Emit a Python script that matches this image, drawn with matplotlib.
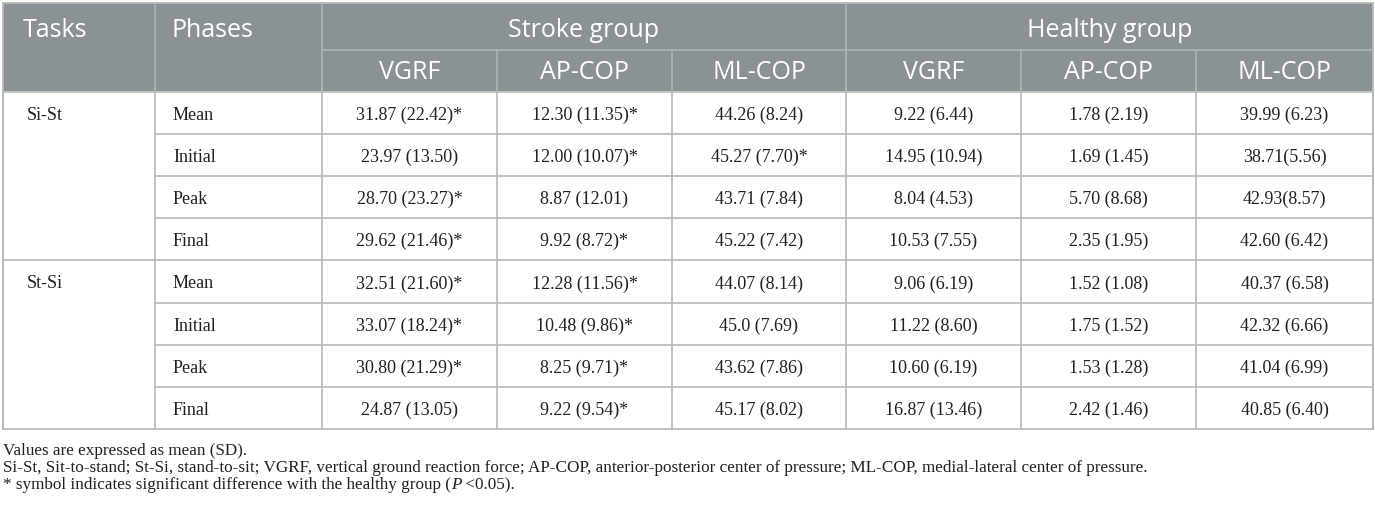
import matplotlib
matplotlib.use("Agg")
import matplotlib.pyplot as plt
from matplotlib.patches import Rectangle

# table contents
tasks = ["Si-St", "St-Si"]
phases = ["Mean", "Initial", "Peak", "Final"]
groups = ["Stroke group", "Healthy group"]
measures = ["VGRF", "AP-COP", "ML-COP"]

stroke_vgrf = ["31.87 (22.42)*", "23.97 (13.50)", "28.70 (23.27)*", "29.62 (21.46)*",
               "32.51 (21.60)*", "33.07 (18.24)*", "30.80 (21.29)*", "24.87 (13.05)"]
stroke_ap = ["12.30 (11.35)*", "12.00 (10.07)*", "8.87 (12.01)", "9.92 (8.72)*",
             "12.28 (11.56)*", "10.48 (9.86)*", "8.25 (9.71)*", "9.22 (9.54)*"]
stroke_ml = ["44.26 (8.24)", "45.27 (7.70)*", "43.71 (7.84)", "45.22 (7.42)",
             "44.07 (8.14)", "45.0 (7.69)", "43.62 (7.86)", "45.17 (8.02)"]
healthy_vgrf = ["9.22 (6.44)", "14.95 (10.94)", "8.04 (4.53)", "10.53 (7.55)",
                "9.06 (6.19)", "11.22 (8.60)", "10.60 (6.19)", "16.87 (13.46)"]
healthy_ap = ["1.78 (2.19)", "1.69 (1.45)", "5.70 (8.68)", "2.35 (1.95)",
              "1.52 (1.08)", "1.75 (1.52)", "1.53 (1.28)", "2.42 (1.46)"]
healthy_ml = ["39.99 (6.23)", "38.71(5.56)", "42.93(8.57)", "42.60 (6.42)",
              "40.37 (6.58)", "42.32 (6.66)", "41.04 (6.99)", "40.85 (6.40)"]

notes = ["Values are expressed as mean (SD).",
         "Si-St, Sit-to-stand; St-Si, stand-to-sit; VGRF, vertical ground reaction force; "
         "AP-COP, anterior-posterior center of pressure; ML-COP, medial-lateral center of pressure."]
note_star = ["* symbol indicates significant difference with the healthy group (", "P", " <0.05)."]

value_cols = [stroke_vgrf, stroke_ap, stroke_ml, healthy_vgrf, healthy_ap, healthy_ml]

# layout (pixels)
W, H = 1375, 512
col_x = [3, 155, 322, 497, 672, 846, 1021, 1196, 1373]
top, mid, head_bot = 3, 50, 91
row_h = 42.1
body_top = 92
bottom = body_top + row_h * 8

head_bg = "#8b9295"
head_line = "#aeb3b5"
grid = "#b8b8b8"
ink = "#231f20"
serif = ["Liberation Serif", "DejaVu Serif"]
sans = ["Open Sans", "DejaVu Sans"]

fig = plt.figure(figsize=(W / 100, H / 100), dpi=100)
ax = fig.add_axes([0, 0, 1, 1])
ax.set_xlim(0, W)
ax.set_ylim(H, 0)
ax.axis("off")

# header block
ax.add_patch(Rectangle((col_x[0], top), col_x[-1] - col_x[0], head_bot - top,
                       facecolor=head_bg, edgecolor="none"))
ax.plot([col_x[2], col_x[-1]], [mid, mid], color=head_line, lw=1.2)
for x in [col_x[1], col_x[2], col_x[5]]:
    ax.plot([x, x], [top, head_bot], color=head_line, lw=1.2)
for x in [col_x[3], col_x[4], col_x[6], col_x[7]]:
    ax.plot([x, x], [mid, head_bot], color=head_line, lw=1.2)

hs = 18
ax.text(col_x[0] + 20, 37, "Tasks", color="white", fontsize=hs,
        family=sans, va="baseline", ha="left")
ax.text(col_x[1] + 17, 37, "Phases", color="white", fontsize=hs,
        family=sans, va="baseline", ha="left")
for i, g in enumerate(groups):
    x0, x1 = col_x[2 + 3 * i], col_x[5 + 3 * i]
    ax.text((x0 + x1) / 2, 37, g, color="white", fontsize=hs,
            family=sans, va="baseline", ha="center")
    for j, m in enumerate(measures):
        c0, c1 = col_x[2 + 3 * i + j], col_x[3 + 3 * i + j]
        ax.text((c0 + c1) / 2, 79, m, color="white",
                fontsize=hs, family=sans, va="baseline", ha="center")

# body grid
bs = 13
for r in range(9):
    y = body_top + r * row_h
    x_start = col_x[0] if r in (0, 4, 8) else col_x[1]
    ax.plot([x_start, col_x[-1]], [y, y], color=grid, lw=1.2)
for x in col_x:
    ax.plot([x, x], [body_top, bottom], color=grid, lw=1.2)
ax.plot([col_x[0], col_x[0]], [top, bottom], color=grid, lw=1.2)
ax.plot([col_x[-1], col_x[-1]], [top, bottom], color=grid, lw=1.2)
ax.plot([col_x[0], col_x[-1]], [top, top], color=grid, lw=1.2)

for r in range(8):
    yb = body_top + (r + 0.5) * row_h + 7
    if r % 4 == 0:
        ax.text(col_x[0] + 24, yb, tasks[r // 4], fontsize=bs, family=serif,
                va="baseline", ha="left", color=ink)
    ax.text(col_x[1] + 18, yb, phases[r % 4], fontsize=bs, family=serif,
            va="baseline", ha="left", color=ink)
    for k, col in enumerate(value_cols):
        ax.text((col_x[2 + k] + col_x[3 + k]) / 2, yb, col[r], fontsize=bs,
                family=serif, va="baseline", ha="center", color=ink)

# footnotes
ns = 12.3
ny = [455, 472, 489]
for t, y in zip(notes, ny):
    ax.text(col_x[0], y, t, fontsize=ns, family=serif, va="baseline", ha="left",
            color=ink)

fig.canvas.draw()
rend = fig.canvas.get_renderer()
x = col_x[0]
for i, part in enumerate(note_star):
    t = ax.text(x, ny[2], part, fontsize=ns, family=serif, va="baseline", ha="left",
                color=ink, style="italic" if i == 1 else "normal")
    bb = t.get_window_extent(renderer=rend)
    x = ax.transData.inverted().transform((bb.x1, bb.y0))[0]

fig.savefig("out.png", dpi=100)
